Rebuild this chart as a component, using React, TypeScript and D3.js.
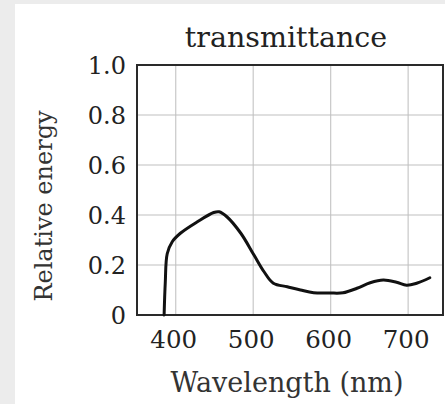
import React from "react";
import * as d3 from "d3";

const wavelengths = [385, 386.5, 389, 395.5, 406, 428, 449, 456, 466, 484, 501, 514, 526, 544, 561, 578, 599, 616, 634, 651, 668, 685, 698, 711, 728];
const transmittance = [0, 0.13, 0.245, 0.293, 0.327, 0.373, 0.41, 0.413, 0.393, 0.327, 0.24, 0.173, 0.127, 0.113, 0.1, 0.089, 0.088, 0.089, 0.107, 0.129, 0.14, 0.131, 0.119, 0.127, 0.149];
const xTicks = [400, 500, 600, 700];
const yTicks = [0, 0.2, 0.4, 0.6, 0.8, 1.0];
const yTickLabels = ["0", "0.2", "0.4", "0.6", "0.8", "1.0"];
const title = "transmittance";
const xLabel = "Wavelength (nm)";
const yLabel = "Relative energy";

const W = 445;
const H = 404;
const left = 137, right = 443, top = 65, bottom = 315;
const font = "'DejaVu Serif', serif";

export default function App() {
  const x = d3.scaleLinear().domain([350, 745]).range([left, right]);
  const y = d3.scaleLinear().domain([0, 1]).range([bottom, top]);
  const pts = wavelengths.map((w, i) => [w, transmittance[i]] as [number, number]);
  const line = d3
    .line<[number, number]>()
    .x((d) => x(d[0]))
    .y((d) => y(d[1]))
    .curve(d3.curveCatmullRom.alpha(0.5));

  return (
    <svg width={W} height={H} style={{ position: "absolute", left: 0, top: 0 }}>
      <rect x={0} y={0} width={W} height={H} fill="#ececec" />
      <rect x={15} y={4} width={W - 15} height={H - 4} fill="#ffffff" />
      {xTicks.map((t) => (
        <line key={"vx" + t} x1={x(t)} x2={x(t)} y1={top} y2={bottom} stroke="#c8c8c8" strokeWidth={1.2} />
      ))}
      {yTicks.slice(1, -1).map((t) => (
        <line key={"hy" + t} x1={left} x2={right} y1={y(t)} y2={y(t)} stroke="#c0c0c0" strokeWidth={1.2} />
      ))}
      <rect x={left} y={top} width={right - left} height={bottom - top} fill="none" stroke="#2a2a2a" strokeWidth={2} />
      <path d={line(pts) || ""} fill="none" stroke="#111" strokeWidth={3} strokeLinejoin="round" strokeLinecap="round" />
      {yTicks.map((t, i) => (
        <text key={"yl" + t} x={126} y={y(t) + 9} textAnchor="end" fontFamily={font} fontSize={24} fill="#222">
          {yTickLabels[i]}
        </text>
      ))}
      {xTicks.map((t) => (
        <text key={"xl" + t} x={x(t) - 2} y={348} textAnchor="middle" fontFamily={font} fontSize={24.5} fill="#222">
          {t}
        </text>
      ))}
      <text x={286} y={47} textAnchor="middle" fontFamily={font} fontSize={28.5} fill="#222">
        {title}
      </text>
      <text x={287} y={392} textAnchor="middle" fontFamily={font} fontSize={27} fill="#333">
        {xLabel}
      </text>
      <text
        transform={`translate(52, 206) rotate(-90)`}
        textAnchor="middle"
        fontFamily={font}
        fontSize={24}
        fill="#333"
      >
        {yLabel}
      </text>
    </svg>
  );
}
